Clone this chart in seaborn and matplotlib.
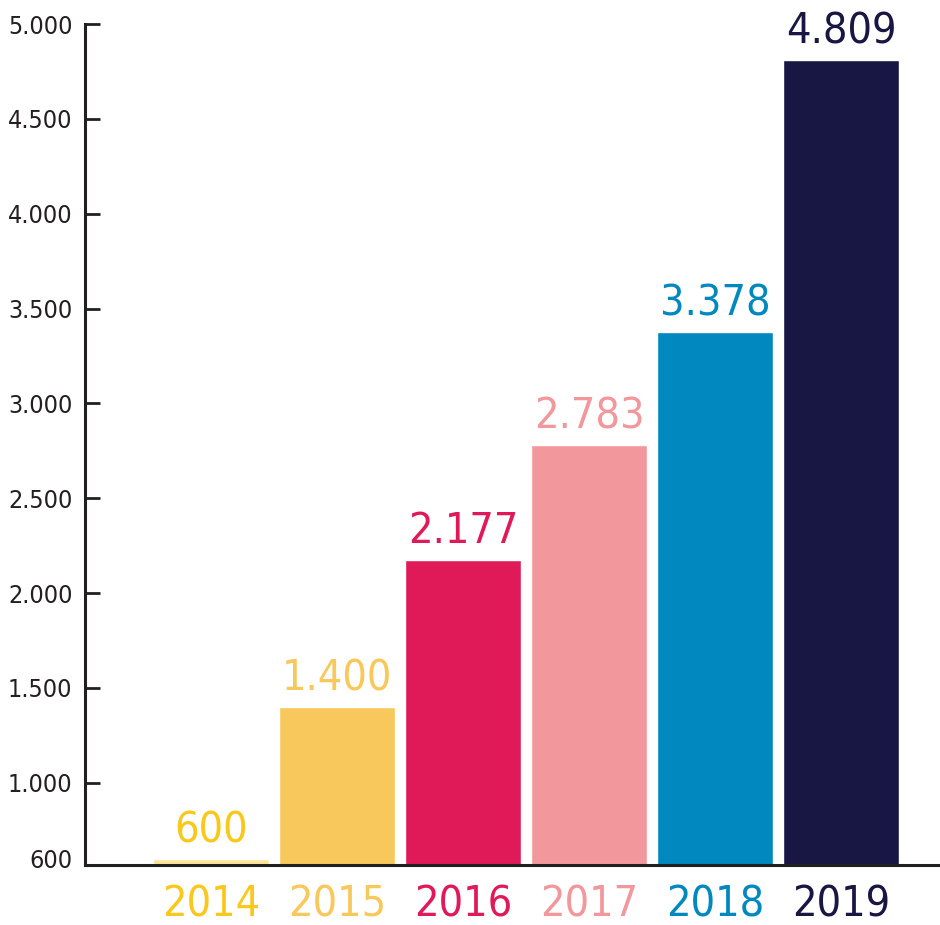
import matplotlib
matplotlib.use("Agg")
import matplotlib.pyplot as plt
import seaborn as sns
import pandas as pd

# Données
annees = ["2014", "2015", "2016", "2017", "2018", "2019"]
valeurs = [600, 1400, 2177, 2783, 3378, 4809]
etiquettes = ["600", "1.400", "2.177", "2.783", "3.378", "4.809"]
couleurs_barres = ["#FDE49A", "#F9C85C", "#E01A59", "#F2989C", "#0088BF", "#181642"]
couleurs_texte = ["#F9C81C", "#F9C85C", "#E01A59", "#F2989C", "#0088BF", "#181642"]
graduations = [600, 1000, 1500, 2000, 2500, 3000, 3500, 4000, 4500, 5000]
graduations_txt = ["600", "1.000", "1.500", "2.000", "2.500", "3.000", "3.500", "4.000", "4.500", "5.000"]

df = pd.DataFrame({"annee": annees, "valeur": valeurs})

sns.set_style("white")
plt.rcParams["font.family"] = ["DejaVu Sans"]
plt.rcParams["font.stretch"] = "condensed"

fig = plt.figure(figsize=(9.4, 9.25), dpi=100)
ax = fig.add_axes([85 / 940, 60 / 925, 855 / 940, 841 / 925])

sns.barplot(data=df, x="annee", y="valeur", hue="annee", palette=couleurs_barres,
            legend=False, width=0.92, saturation=1, ax=ax)

ax.set_xlim(-1.0, 5.786)
ax.set_ylim(567, 5000)

# Etiquettes de valeur au-dessus des barres
for i, (v, txt) in enumerate(zip(valeurs, etiquettes)):
    ax.text(i, v + 40, txt, ha="center", va="bottom", fontsize=31,
            color=couleurs_texte[i], stretch="condensed")

# Axes
for s in ["top", "right"]:
    ax.spines[s].set_visible(False)
for s in ["left", "bottom"]:
    ax.spines[s].set_color("#231F20")
    ax.spines[s].set_linewidth(2.2)

ax.set_yticks(graduations)
ax.set_yticklabels(graduations_txt)
ax.tick_params(axis="y", direction="in", length=11, width=2, color="#231F20",
               labelsize=18, labelcolor="#231F20", pad=9, left=True)
ax.yaxis.get_major_ticks()[0].tick1line.set_visible(False)

ax.tick_params(axis="x", length=0, labelsize=31, pad=13)
for lab, c in zip(ax.get_xticklabels(), couleurs_texte):
    lab.set_color(c)
    lab.set_stretch("condensed")
for lab in ax.get_yticklabels():
    lab.set_stretch("condensed")

ax.set_xlabel("")
ax.set_ylabel("")

fig.savefig("out.png", dpi=100)
